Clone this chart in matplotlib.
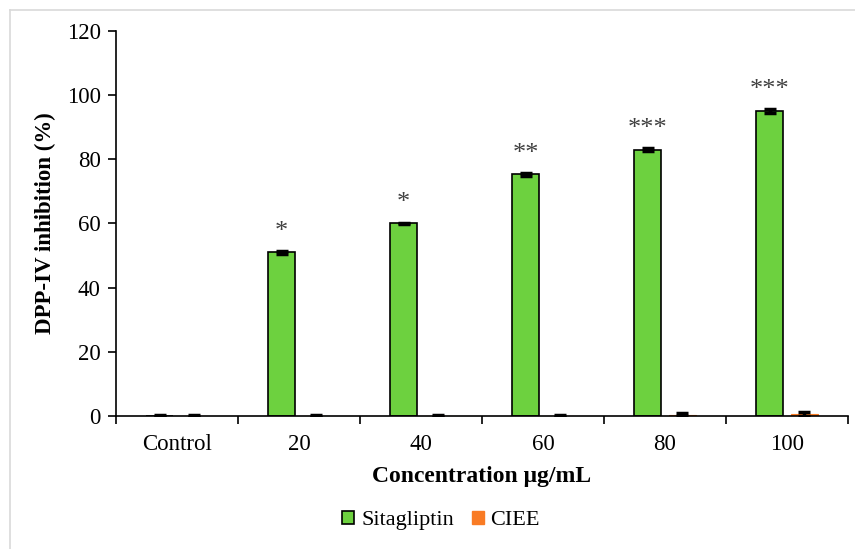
import matplotlib.pyplot as plt
from matplotlib.lines import Line2D
import numpy as np

categories = ["Control", "20", "40", "60", "80", "100"]
sitagliptin = [0.0, 51.0, 60.0, 75.3, 83.0, 95.1]
sitagliptin_err = [0.2, 0.4, 0.3, 0.4, 0.4, 0.5]
ciee = [0.0, 0.0, 0.0, 0.0, 0.4, 0.6]
ciee_err = [0.2, 0.2, 0.2, 0.2, 0.5, 0.6]
stars = ["", "*", "*", "**", "***", "***"]

plt.rcParams['font.family'] = ['Liberation Serif', 'DejaVu Serif']

fig = plt.figure(figsize=(8.55, 5.49), dpi=100)
ax = fig.add_axes([0.1357, 0.2423, 0.8561, 0.7012])

x = np.arange(len(categories))
width = 0.22
offset = 0.143

ax.bar(x - offset, sitagliptin, width, color="#6dd13f", edgecolor="black",
       linewidth=1.2, label="Sitagliptin", zorder=2)
ax.bar(x + offset, ciee, width, color="#f97b24", edgecolor="#f97b24",
       linewidth=0.8, label="CIEE", zorder=2)
ax.errorbar(x - offset, sitagliptin, yerr=sitagliptin_err, fmt="none",
            ecolor="black", elinewidth=2.5, capsize=4, capthick=2.5, zorder=3)
ax.errorbar(x + offset, ciee, yerr=ciee_err, fmt="none",
            ecolor="black", elinewidth=2.5, capsize=4, capthick=2.5, zorder=3)

for xi, v, s in zip(x, sitagliptin, stars):
    if s:
        ax.text(xi - offset, v + 3.0, s, ha="center", va="bottom",
                fontsize=19, color="#404040")

ax.set_xlim(-0.5, len(categories) - 0.5)
ax.set_ylim(0, 120)
ax.set_yticks(np.arange(0, 121, 20))
ax.set_xticks(x)
ax.set_xticklabels(categories)
ax.set_xticks(np.arange(-0.5, len(categories), 1), minor=True)
ax.tick_params(axis="x", which="major", length=0, labelsize=16.5, pad=13)
ax.tick_params(axis="x", which="minor", length=6, width=1.2, direction="out")
ax.tick_params(axis="y", length=6, width=1.2, direction="out", labelsize=16.5, pad=5)

for side in ("top", "right"):
    ax.spines[side].set_visible(False)
for side in ("left", "bottom"):
    ax.spines[side].set_linewidth(1.2)

ax.set_ylabel("DPP-IV inhibition (%)", fontsize=16.5, fontweight="bold", labelpad=8)
ax.set_xlabel("Concentration μg/mL", fontsize=17, fontweight="bold", labelpad=8)

handles = [
    plt.Rectangle((0, 0), 1, 1, facecolor="#6dd13f", edgecolor="black", linewidth=1.2),
    plt.Rectangle((0, 0), 1, 1, facecolor="#f97b24", edgecolor="#f97b24"),
]
fig.legend(handles, ["Sitagliptin", "CIEE"], loc="center", ncol=2,
           bbox_to_anchor=(0.516, 0.052), frameon=False, fontsize=16,
           handlelength=0.55, handleheight=0.55, handletextpad=0.3,
           columnspacing=0.8)

# thin frame lines along the top and left of the figure
fig.add_artist(Line2D([0.0117, 1.0], [0.981, 0.981], color="#d9d9d9", linewidth=1.2))
fig.add_artist(Line2D([0.0117, 0.0117], [0.0, 0.981], color="#d9d9d9", linewidth=1.2))

fig.savefig("out.png", dpi=100)
